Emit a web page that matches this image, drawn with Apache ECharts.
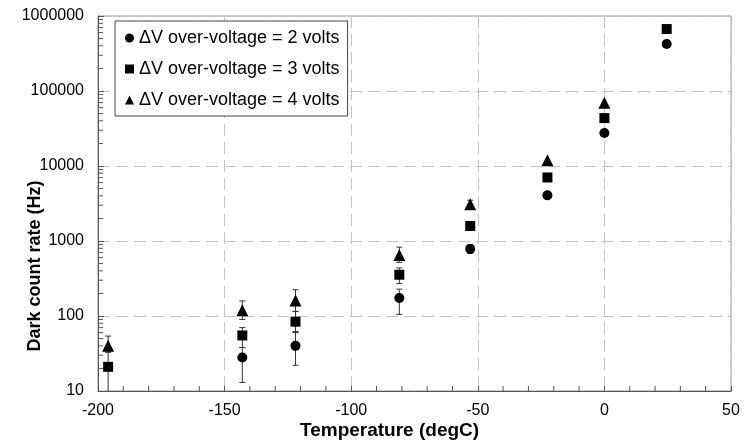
<!DOCTYPE html>
<html>
<head>
<meta charset="utf-8">
<script src="https://cdn.jsdelivr.net/npm/echarts@6/dist/echarts.min.js"></script>
<style>
  html, body { margin: 0; padding: 0; background: #fff; }
  #chart { width: 749px; height: 442px; }
</style>
</head>
<body>
<div id="chart"></div>
<script>
// temperatures (degC) of the measurement points
const temps = [-196, -143, -122, -81, -53, -22.5, 0, 24.6];

// dark count rate (Hz) per over-voltage
const rate2V = [null, 28, 40, 174, 785, 4060, 27500, 424000];
const rate3V = [21, 55, 84, 355, 1585, 7030, 43500, 670000];
const rate4V = [40, 119, 161, 653, 3080, 11900, 69600, null];

// error bar ranges [low, high]
const err2V = [null, [13, 38], [22, 62], [105, 228], [680, 900], null, null, null];
const err3V = [[5, 33], [38, 70], [60, 115], [270, 437], null, null, null, null];
const err4V = [[33, 54], [90, 159], [115, 224], [520, 828], [2700, 3500], null, null, null];

// minor tick values
const xMinor = [-190, -180, -170, -160, -140, -130, -120, -110, -90, -80, -70, -60,
  -40, -30, -20, -10, 10, 20, 30, 40];
const yMinor = [20, 30, 40, 50, 60, 70, 80, 90,
  200, 300, 400, 500, 600, 700, 800, 900,
  2000, 3000, 4000, 5000, 6000, 7000, 8000, 9000,
  20000, 30000, 40000, 50000, 60000, 70000, 80000, 90000,
  200000, 300000, 400000, 500000, 600000, 700000, 800000, 900000];

const legendNames = [
  'ΔV over-voltage = 2 volts',
  'ΔV over-voltage = 3 volts',
  'ΔV over-voltage = 4 volts'
];

const FONT = '"Liberation Sans", Arial, sans-serif';

function pairs(vals) {
  return temps.map((t, i) => [t, vals[i]]).filter(d => d[1] != null);
}
function errPairs(errs) {
  return temps.map((t, i) => errs[i] ? [t, errs[i][0], errs[i][1]] : null).filter(d => d);
}

function renderErr(params, api) {
  const lo = api.coord([api.value(0), api.value(1)]);
  const hi = api.coord([api.value(0), api.value(2)]);
  const cap = 3;
  const style = { stroke: '#333', lineWidth: 1 };
  return {
    type: 'group',
    children: [
      { type: 'line', shape: { x1: lo[0], y1: lo[1], x2: hi[0], y2: hi[1] }, style },
      { type: 'line', shape: { x1: lo[0] - cap, y1: lo[1], x2: lo[0] + cap, y2: lo[1] }, style },
      { type: 'line', shape: { x1: hi[0] - cap, y1: hi[1], x2: hi[0] + cap, y2: hi[1] }, style }
    ]
  };
}

// short tick marks pointing into the plot
function renderYMinor(params, api) {
  const p = api.coord([-200, api.value(0)]);
  return {
    type: 'line',
    shape: { x1: p[0], y1: p[1], x2: p[0] + 5, y2: p[1] },
    style: { stroke: '#555', lineWidth: 1 }
  };
}
function renderXMinor(params, api) {
  const p = api.coord([api.value(0), 10]);
  return {
    type: 'line',
    shape: { x1: p[0], y1: p[1], x2: p[0], y2: p[1] - 5 },
    style: { stroke: '#555', lineWidth: 1 }
  };
}

const chart = echarts.init(document.getElementById('chart'));
chart.setOption({
  backgroundColor: '#fff',
  animation: false,
  textStyle: { fontFamily: FONT },
  grid: {
    left: 98, right: 18, top: 16, bottom: 51,
    outerBoundsMode: 'none',
    show: true, borderColor: '#999', borderWidth: 1
  },
  // axis titles sit off-centre in the original
  graphic: [
    {
      type: 'text', left: 300, top: 421,
      style: { text: 'Temperature (degC)', font: 'bold 19px ' + FONT, fill: '#000' }
    },
    {
      type: 'text', x: 35, y: 266, rotation: Math.PI / 2,
      style: {
        text: 'Dark count rate (Hz)', font: 'bold 18px ' + FONT, fill: '#000',
        align: 'center', verticalAlign: 'middle'
      }
    }
  ],
  legend: {
    orient: 'vertical',
    left: 115, top: 21,
    padding: [8, 8, 7, 10],
    borderColor: '#444', borderWidth: 1,
    backgroundColor: '#fff',
    itemWidth: 9, itemHeight: 9,
    itemGap: 13,
    textStyle: { fontSize: 18, color: '#000', fontFamily: FONT, lineHeight: 18 },
    data: legendNames
  },
  xAxis: {
    type: 'value',
    min: -200, max: 50, interval: 50,
    axisLine: { onZero: false, lineStyle: { color: '#555' } },
    axisTick: { inside: true, length: 5, lineStyle: { color: '#555' } },
    axisLabel: { fontSize: 16, color: '#000', margin: 12 },
    splitLine: { show: true, lineStyle: { color: '#c4c4c4', type: [12, 6], width: 1 } }
  },
  yAxis: {
    type: 'log',
    logBase: 10,
    min: 10, max: 1000000,
    axisLine: { onZero: false, lineStyle: { color: '#555' } },
    axisTick: { inside: true, length: 6, lineStyle: { color: '#555' } },
    axisLabel: { fontSize: 16, color: '#000', margin: 14, formatter: v => String(v) },
    splitLine: { show: true, lineStyle: { color: '#c4c4c4', type: [12, 6], width: 1 } }
  },
  series: [
    {
      type: 'custom', renderItem: renderYMinor, silent: true,
      data: yMinor.map(v => [v]), encode: { y: 0 }, z: 1
    },
    {
      type: 'custom', renderItem: renderXMinor, silent: true,
      data: xMinor.map(v => [v]), encode: { x: 0 }, z: 1
    },
    { type: 'custom', renderItem: renderErr, data: errPairs(err2V), encode: { x: 0, y: [1, 2] }, clip: true, silent: true, z: 2 },
    { type: 'custom', renderItem: renderErr, data: errPairs(err3V), encode: { x: 0, y: [1, 2] }, clip: true, silent: true, z: 2 },
    { type: 'custom', renderItem: renderErr, data: errPairs(err4V), encode: { x: 0, y: [1, 2] }, clip: true, silent: true, z: 2 },
    {
      name: legendNames[0], type: 'scatter', symbol: 'circle', symbolSize: 10,
      itemStyle: { color: '#000', opacity: 1 }, data: pairs(rate2V), z: 3
    },
    {
      name: legendNames[1], type: 'scatter', symbol: 'rect', symbolSize: 10,
      itemStyle: { color: '#000', opacity: 1 }, data: pairs(rate3V), z: 3
    },
    {
      name: legendNames[2], type: 'scatter', symbol: 'triangle', symbolSize: 12,
      itemStyle: { color: '#000', opacity: 1 }, data: pairs(rate4V), z: 3
    }
  ]
});
window.addEventListener('resize', () => chart.resize());
</script>
</body>
</html>
